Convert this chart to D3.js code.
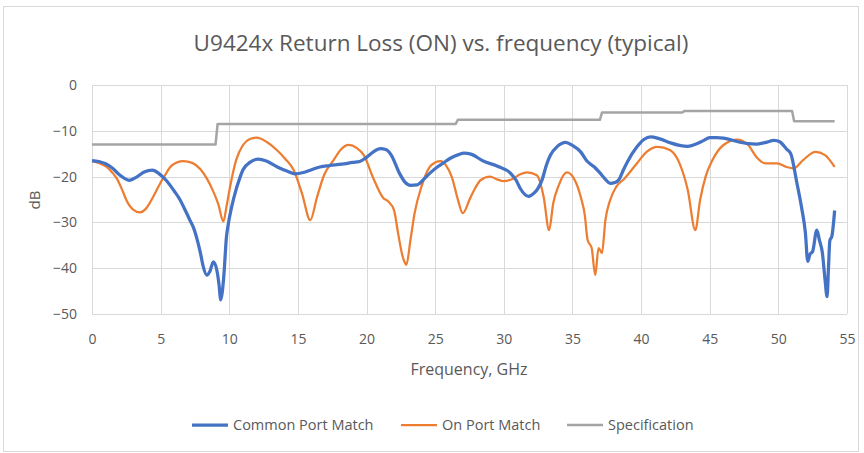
<!DOCTYPE html>
<html>
<head>
<meta charset="utf-8">
<script src="https://cdn.jsdelivr.net/npm/d3@7.9.0/dist/d3.min.js"></script>
<style>
  body { margin: 0; background: #fff; }
  svg text { font-family: "Open Sans", "Noto Sans", sans-serif; fill: #595959; }
</style>
</head>
<body>
<svg id="chart"></svg>
<script>
const width = 864;
const height = 453;

// Common Port Match [GHz, dB]
const commonPort = [
  [0, -16.5], [0.5, -16.7], [1.0, -17.2], [1.5, -18.2], [2.0, -19.6], [2.7, -20.8], [3.3, -20.0],
  [3.8, -19.0], [4.4, -18.6], [4.9, -19.4], [5.4, -20.8], [6.0, -23.2], [6.4, -25.0],
  [6.8, -27.4], [7.1, -29.3], [7.4, -31.2], [7.7, -34.2], [7.9, -36.7], [8.1, -39.6], [8.36, -41.5], [8.6, -40.6],
  [8.84, -38.6], [9.1, -40.5], [9.25, -43.5], [9.38, -46.9], [9.5, -45.0], [9.6, -41.8],
  [9.8, -33.0], [9.9, -30.9], [10.3, -25.0], [10.8, -20.0], [11.0, -18.5], [11.5, -16.9],
  [12.1, -16.2], [12.7, -16.6], [13.5, -17.9], [14.2, -18.8], [14.8, -19.4], [15.4, -19.1],
  [15.9, -18.6], [16.6, -17.9], [17.3, -17.6], [18.2, -17.3], [19.0, -16.9], [19.5, -16.7],
  [20.0, -15.8], [20.5, -14.6], [21.0, -13.9], [21.4, -14.1], [21.8, -15.3], [22.4, -19.3],
  [22.8, -21.2], [23.2, -21.9], [23.7, -21.8], [24.1, -20.8], [24.6, -19.3], [25.2, -17.8],
  [25.6, -17.0], [26.1, -16.0], [26.7, -15.2], [27.1, -14.9], [27.6, -15.1], [28.5, -16.6],
  [29.5, -17.7], [30.5, -19.3], [30.9, -20.8], [31.2, -22.6], [31.8, -24.3], [32.2, -23.6],
  [32.5, -22.5], [32.8, -20.6], [33.1, -17.5], [33.4, -15.3], [33.9, -13.4], [34.5, -12.5],
  [35.0, -13.2], [35.6, -14.6], [36.05, -16.6], [36.6, -17.9], [37.0, -19.2], [37.4, -20.6],
  [37.75, -21.5], [38.1, -21.3], [38.4, -20.6], [38.7, -18.6], [39.0, -16.8], [39.7, -13.5],
  [40.2, -11.9], [40.7, -11.3], [41.3, -11.7], [42.1, -12.6], [42.8, -13.2], [43.4, -13.4],
  [44.0, -12.9], [44.5, -12.2], [45.0, -11.5], [45.5, -11.5], [46.0, -11.6], [46.6, -12.0],
  [47.2, -12.5], [47.8, -12.8], [48.4, -12.9], [49.0, -12.6], [49.7, -12.1], [50.1, -12.4],
  [50.6, -14.0], [50.9, -15.0], [51.35, -21.4], [51.7, -26.9], [51.97, -32.3], [52.14, -38.5],
  [52.3, -37.0], [52.5, -36.3], [52.8, -31.7], [53.0, -34.0], [53.2, -36.5], [53.4, -42.5],
  [53.55, -46.2], [53.65, -40.0], [53.75, -34.0], [53.9, -33.0], [54.1, -27.4]
];

// On Port Match [GHz, dB]
const onPort = [
  [0, -16.6], [0.5, -17.0], [1.07, -17.9], [1.5, -19.2], [1.8, -20.4], [2.2, -22.9], [2.5, -25.1],
  [3.0, -27.2], [3.5, -27.8], [3.9, -27.1], [4.2, -25.8], [4.6, -23.6], [4.96, -21.5],
  [5.3, -19.8], [5.7, -17.9], [6.2, -16.9], [6.65, -16.6], [7.3, -17.0], [7.9, -18.4],
  [8.36, -20.4], [8.8, -23.0], [9.2, -26.0], [9.57, -29.8], [9.8, -26.5], [10.06, -22.2],
  [10.5, -16.4], [11.0, -13.1], [11.5, -11.8], [12.0, -11.5], [12.7, -12.4], [13.46, -14.2],
  [14.1, -16.2], [14.7, -18.6], [15.3, -23.7], [15.9, -29.5], [16.4, -24.4], [16.9, -19.7],
  [17.6, -16.4], [18.1, -14.2], [18.7, -13.1], [19.3, -13.8], [19.8, -15.3], [20.5, -20.4],
  [21.2, -24.6], [21.6, -25.5], [22.0, -27.3], [22.3, -32.4], [22.6, -37.1], [22.75, -38.5],
  [22.9, -39.3], [23.2, -33.8], [23.5, -28.0], [24.0, -22.2], [24.6, -17.9], [25.0, -16.9],
  [25.4, -16.6], [25.8, -17.6], [26.2, -20.0], [26.7, -25.5], [27.0, -28.0], [27.55, -24.7],
  [27.9, -22.6], [28.3, -20.8], [29.0, -20.0], [29.5, -20.6], [30.0, -21.0], [30.7, -20.4],
  [31.2, -19.5], [31.7, -19.1], [32.4, -19.7], [32.9, -24.4], [33.3, -31.7], [33.6, -25.8],
  [34.0, -21.9], [34.6, -19.1], [35.1, -20.4], [35.6, -24.4], [35.9, -28.4], [36.1, -33.8],
  [36.4, -35.6], [36.66, -41.5], [36.9, -35.6], [37.15, -36.7], [37.4, -29.5], [37.75, -25.1],
  [38.2, -22.2], [38.8, -20.4], [39.7, -17.1], [40.4, -14.6], [41.2, -13.5], [42.1, -14.2],
  [42.8, -17.1], [43.4, -22.9], [43.95, -31.7], [44.3, -25.1], [44.7, -20.0], [45.2, -16.4],
  [46.0, -13.1], [47.0, -11.9], [47.8, -13.1], [48.4, -15.7], [49.05, -17.1], [49.9, -17.1],
  [50.6, -17.9], [51.1, -18.2], [51.8, -16.4], [52.7, -14.6], [53.4, -15.3], [54.1, -17.9]
];

// Specification [GHz, dB]
const spec = [
  [0, -13.0], [9.0, -13.0], [9.15, -8.5], [26.5, -8.5], [26.65, -7.6], [37.0, -7.6],
  [37.15, -6.0], [43.0, -6.0], [43.15, -5.7], [51.0, -5.7], [51.15, -7.9], [54.1, -7.9]
];

const xTicks = [0, 5, 10, 15, 20, 25, 30, 35, 40, 45, 50, 55];
const yTicks = [0, -10, -20, -30, -40, -50];

const series = [
  { name: "Common Port Match", data: commonPort, color: "#4472C4", width: 3.25 },
  { name: "On Port Match", data: onPort, color: "#ED7D31", width: 2.25 },
  { name: "Specification", data: spec, color: "#A5A5A5", width: 2.5 }
];

const svg = d3.select("#chart").attr("width", width).attr("height", height);

// chart frame
svg.append("rect")
  .attr("x", 3.5).attr("y", 6.5)
  .attr("width", 855).attr("height", 445)
  .attr("fill", "#fff")
  .attr("stroke", "#d9d9d9");

const x = d3.scaleLinear().domain([0, 55]).range([92, 847]);
const y = d3.scaleLinear().domain([-50, 0]).range([314, 85]);

// grid
svg.append("g")
  .selectAll("line.h")
  .data(yTicks)
  .join("line")
  .attr("x1", x(0)).attr("x2", x(55))
  .attr("y1", d => Math.round(y(d)) + 0.5).attr("y2", d => Math.round(y(d)) + 0.5)
  .attr("stroke", "#d9d9d9");

svg.append("g")
  .selectAll("line.v")
  .data(xTicks)
  .join("line")
  .attr("x1", d => Math.round(x(d)) + 0.5).attr("x2", d => Math.round(x(d)) + 0.5)
  .attr("y1", y(0)).attr("y2", y(-50))
  .attr("stroke", "#d9d9d9");

// axes labels via d3 axes
const xAxis = svg.append("g")
  .attr("transform", `translate(0, ${y(-50)})`)
  .call(d3.axisBottom(x).tickValues(xTicks).tickSize(0).tickPadding(20));
xAxis.select(".domain").remove();
xAxis.selectAll("text").style("font-size", "14px").attr("fill", "#595959");

const yAxis = svg.append("g")
  .attr("transform", `translate(${x(0)}, 0)`)
  .call(d3.axisLeft(y).tickValues(yTicks).tickSize(0).tickPadding(15));
yAxis.select(".domain").remove();
yAxis.selectAll("text").style("font-size", "14px").attr("fill", "#595959");

// lines
const line = d3.line()
  .x(d => x(d[0]))
  .y(d => y(d[1]));

const lineSmooth = d3.line()
  .x(d => x(d[0]))
  .y(d => y(d[1]))
  .curve(d3.curveMonotoneX);

series.slice().reverse().forEach(s => {
  svg.append("path")
    .datum(s.data)
    .attr("fill", "none")
    .attr("stroke", s.color)
    .attr("stroke-width", s.width)
    .attr("stroke-linejoin", "round")
    .attr("d", s.name === "Specification" ? line : lineSmooth);
});

// titles
svg.append("text")
  .attr("x", 441).attr("y", 51)
  .attr("text-anchor", "middle")
  .style("font-size", "22.5px")
  .text("U9424x Return Loss (ON) vs. frequency (typical)");

svg.append("text")
  .attr("x", 469).attr("y", 375)
  .attr("text-anchor", "middle")
  .style("font-size", "16px")
  .text("Frequency, GHz");

svg.append("text")
  .attr("transform", "translate(40, 200) rotate(-90)")
  .attr("text-anchor", "middle")
  .style("font-size", "15px")
  .text("dB");

// legend
const legendX = [192, 401, 567];
const legend = svg.append("g");
series.forEach((s, i) => {
  const g = legend.append("g").attr("transform", `translate(${legendX[i]}, 425)`);
  g.append("line")
    .attr("x1", 0).attr("x2", 36)
    .attr("stroke", s.color)
    .attr("stroke-width", s.width);
  g.append("text")
    .attr("x", 41).attr("y", 5)
    .style("font-size", "14.5px")
    .text(s.name);
});
</script>
</body>
</html>
